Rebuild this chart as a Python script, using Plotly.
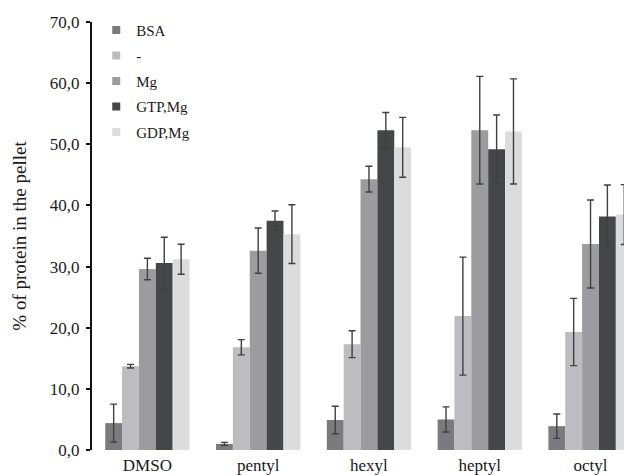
import plotly.graph_objects as go

categories = ["DMSO", "pentyl", "hexyl", "heptyl", "octyl"]
series_names = ["BSA", "-", "Mg", "GTP,Mg", "GDP,Mg"]

bsa = [4.4, 1.0, 4.9, 5.0, 3.9]
bsa_err = [3.1, 0.25, 2.25, 2.05, 2.0]
none_ = [13.7, 16.8, 17.3, 21.9, 19.3]
none_err = [0.3, 1.25, 2.2, 9.65, 5.5]
mg = [29.6, 32.6, 44.3, 52.3, 33.7]
mg_err = [1.75, 3.7, 2.1, 8.8, 7.2]
gtp_mg = [30.6, 37.5, 52.3, 49.2, 38.2]
gtp_mg_err = [4.2, 1.6, 2.9, 5.6, 5.15]
gdp_mg = [31.2, 35.3, 49.5, 52.1, 38.5]
gdp_mg_err = [2.45, 4.8, 4.9, 8.6, 4.9]

y_ticks = [0, 10, 20, 30, 40, 50, 60, 70]

values = [bsa, none_, mg, gtp_mg, gdp_mg]
errors = [bsa_err, none_err, mg_err, gtp_mg_err, gdp_mg_err]
colors = ["#7b7b7f", "#bdbdc1", "#9c9ca0", "#454648", "#dcdcde"]

FONT = "Liberation Serif"

fig = go.Figure()
for name, vals, errs, col in zip(series_names, values, errors, colors):
    fig.add_trace(go.Bar(
        x=categories, y=vals, name=name, marker_color=col, marker_line_width=0,
        showlegend=False, legendgroup=name,
        error_y=dict(type="data", array=errs, visible=True, color="#404040",
                     thickness=1.4, width=3.5),
    ))
for name, col in zip(series_names, colors):
    fig.add_trace(go.Scatter(
        x=[None], y=[None], mode="markers", name=name, legendgroup=name,
        marker=dict(symbol="square", size=8, color=col),
    ))

fig.update_layout(
    width=624, height=475,
    margin=dict(l=92, r=0, t=22, b=25, pad=0),
    paper_bgcolor="white", plot_bgcolor="white",
    separators=", ",
    barmode="group", bargap=0.239, bargroupgap=0,
    font=dict(family=FONT, size=17, color="#1a1a1a"),
    legend=dict(x=0.008, y=1.019, xanchor="left", yanchor="top",
                bgcolor="rgba(0,0,0,0)", font=dict(size=15, family=FONT),
                tracegroupgap=3, itemwidth=30),
    xaxis=dict(range=[-0.5, 4.302], showline=False, ticks="", showgrid=False,
               zeroline=False, tickfont=dict(size=17), ticklabelstandoff=3),
    yaxis=dict(range=[0, 70], tickvals=y_ticks, tickformat=".1f",
               showline=True, linecolor="#111", linewidth=2,
               ticks="outside", ticklen=4, tickwidth=2, tickcolor="#111",
               showgrid=False, zeroline=False, tickfont=dict(size=17),
               ticklabelstandoff=3,
               title=dict(text="% of protein in the pellet", font=dict(size=19), standoff=18)),
    yaxis2=dict(range=[0, 70], tickvals=y_ticks, overlaying="y", side="left",
                anchor="x", ticks="inside", ticklen=4, tickwidth=2, tickcolor="#111",
                showticklabels=False, showline=False, showgrid=False, zeroline=False),
)

fig.write_html("out.html", post_script="document.body.style.margin='0';",
               config={"displayModeBar": False})
